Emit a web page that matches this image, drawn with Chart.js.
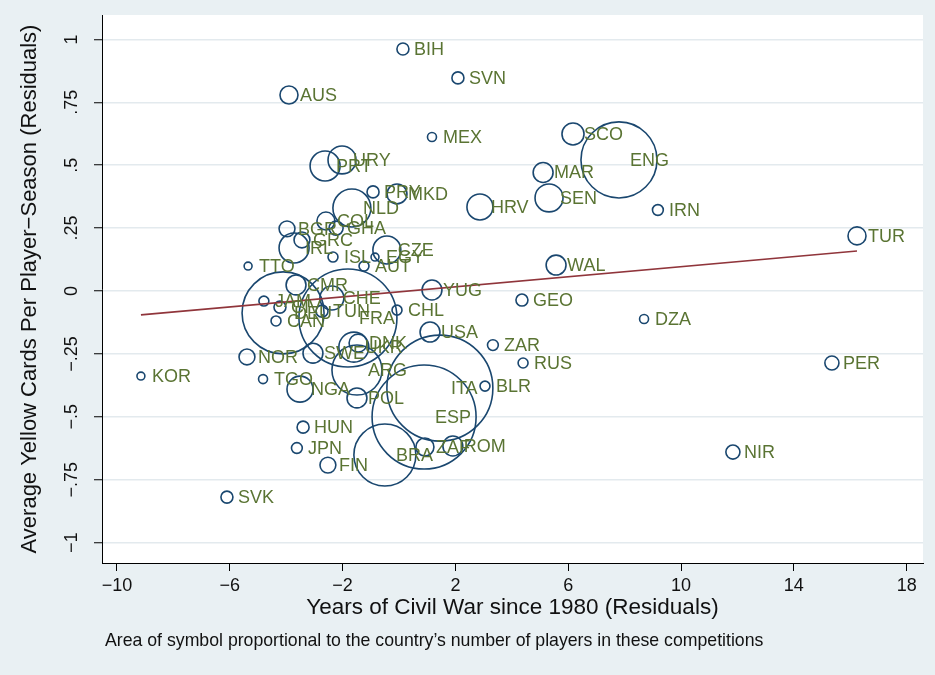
<!DOCTYPE html>
<html><head><meta charset="utf-8">
<script src="https://cdn.jsdelivr.net/npm/chart.js@4.4.0/dist/chart.umd.min.js"></script>
<style>html,body{margin:0;padding:0;background:#E9F0F3;overflow:hidden;}canvas{display:block;}</style>
</head><body>
<canvas id="c" width="935" height="675" style="width:935px;height:675px"></canvas>
<script>
const countries = ['BIH','SVN','AUS','MEX','SCO','ENG','MAR','SEN','HRV','IRN','TUR','WAL','GEO','DZA','ZAR','RUS','PER','BLR','NIR','KOR','NOR','TGO','HUN','JPN','FIN','SVK','BRA','ZAF','ROM','ITA','ESP','USA','YUG','CHL','FRA','DEU','JAM','CAN','CIV','TUN','CHE','CMR','SWE','DNK','UKR','ARG','NGA','POL','TTO','ISL','EGY','AUT','CZE','IRL','GRC','BGR','COL','GHA','NLD','PRT','URY','PRY','MKD'];
const civilWarYears = [0.14,2.09,-3.90,1.17,6.17,7.80,5.11,5.32,2.87,9.18,16.24,5.57,4.36,8.69,3.33,4.40,15.35,3.05,11.84,-9.15,-5.39,-4.82,-3.40,-3.62,-2.52,-6.10,-0.50,0.92,1.91,1.45,0.89,1.10,1.17,-0.07,-1.81,-4.11,-4.79,-4.36,-4.22,-2.73,-2.38,-3.65,-3.05,-1.45,-1.60,-1.49,-3.51,-1.49,-5.35,-2.34,-0.85,-1.24,-0.43,-3.72,-3.44,-3.97,-2.59,-2.23,-1.67,-2.62,-2.02,-0.92,-0.07];
const yellowCards = [0.962,0.847,0.779,0.612,0.624,0.521,0.471,0.370,0.334,0.322,0.219,0.103,-0.036,-0.111,-0.215,-0.286,-0.286,-0.378,-0.640,-0.338,-0.262,-0.350,-0.541,-0.624,-0.692,-0.819,-0.652,-0.620,-0.616,-0.386,-0.501,-0.163,0.004,-0.076,-0.107,-0.087,-0.040,-0.119,-0.064,-0.080,-0.028,0.024,-0.247,-0.207,-0.223,-0.314,-0.390,-0.425,0.099,0.135,0.135,0.099,0.163,0.171,0.203,0.247,0.278,0.250,0.330,0.497,0.521,0.394,0.386];
const players = [16,16,36,9,54,642,44,87,75,13,36,44,16,9,13,11,22,11,22,7,28,9,16,13,28,16,427,36,44,1248,1202,44,44,11,1067,747,11,11,16,16,64,44,44,36,100,278,75,44,7,11,7,11,87,100,28,28,36,22,160,100,87,16,44];
const fitX = [-9.15, 16.24];
const fitY = [-0.095, 0.159];
const xTickValues = [-10,-6,-2,2,6,10,14,18];
const xTickLabels = ['\u221210','\u22126','\u22122','2','6','10','14','18'];
const yTickValues = [-1,-0.75,-0.5,-0.25,0,0.25,0.5,0.75,1];
const yTickLabels = ['\u22121','\u2212.75','\u2212.5','\u2212.25','0','.25','.5','.75','1'];
const xTitle = 'Years of Civil War since 1980 (Residuals)';
const yTitle = 'Average Yellow Cards Per Player\u2212Season (Residuals)';
const note = 'Area of symbol proportional to the country\u2019s number of players in these competitions';

const FAM = "'Liberation Sans', Arial, Helvetica, sans-serif";
const NAVY = '#1a476f', LABEL = '#5a7433', FITC = '#90353b', BG = '#E9F0F3';

const bgPlugin = {
  id: 'bg',
  beforeDraw(chart) {
    const {ctx, chartArea: a} = chart;
    ctx.save();
    ctx.fillStyle = BG; ctx.fillRect(0, 0, chart.width, chart.height);
    ctx.fillStyle = '#ffffff'; ctx.fillRect(a.left, a.top, a.right - a.left, a.bottom - a.top);
    ctx.restore();
  }
};
const labelPlugin = {
  id: 'mlabels',
  afterDatasetsDraw(chart) {
    const ctx = chart.ctx;
    const meta = chart.getDatasetMeta(1);
    ctx.save();
    ctx.font = '18px ' + FAM;
    ctx.fillStyle = LABEL;
    ctx.textBaseline = 'middle';
    ctx.textAlign = 'left';
    meta.data.forEach((el, i) => { ctx.fillText(countries[i], el.x + 11, el.y + 1); });
    ctx.restore();
  }
};
const notePlugin = {
  id: 'note',
  afterDraw(chart) {
    const ctx = chart.ctx;
    ctx.save();
    ctx.font = '17.7px ' + FAM;
    ctx.fillStyle = '#111';
    ctx.textBaseline = 'middle';
    ctx.textAlign = 'left';
    ctx.fillText(note, 105, 641);
    ctx.restore();
  }
};

new Chart(document.getElementById('c'), {
  type: 'bubble',
  data: {
    datasets: [
      { type: 'line', data: fitX.map((x, i) => ({x, y: fitY[i]})), borderColor: FITC, borderWidth: 1.6, pointRadius: 0, fill: false, order: 0 },
      { type: 'bubble', data: countries.map((c, i) => ({x: civilWarYears[i], y: yellowCards[i], r: 1.5 * Math.sqrt(players[i])})),
        backgroundColor: 'rgba(0,0,0,0)', borderColor: NAVY, borderWidth: 1.6, hoverRadius: 0, hoverBorderWidth: 1.6, order: 1 }
    ]
  },
  options: {
    responsive: false, animation: false,
    layout: { autoPadding: false, padding: { top: 15, right: 12, left: 0, bottom: 0 } },
    plugins: { legend: { display: false }, tooltip: { enabled: false } },
    events: [],
    scales: {
      x: {
        type: 'linear', min: -10.53, max: 18.58,
        afterBuildTicks: s => { s.ticks = xTickValues.map(v => ({value: v})); },
        afterFit: s => { s.height = 112; },
        ticks: { callback: v => xTickLabels[xTickValues.indexOf(v)], font: { size: 18, family: FAM }, color: '#111', padding: 4, maxRotation: 0, autoSkip: false },
        grid: { drawOnChartArea: false, tickLength: 8, tickColor: '#000', tickWidth: 1 },
        border: { display: true, color: '#000', width: 1 },
        title: { display: true, text: xTitle, font: { size: 22.5, family: FAM }, color: '#111', padding: { top: 0, bottom: 54 } }
      },
      y: {
        type: 'linear', min: -1.081, max: 1.097,
        afterBuildTicks: s => { s.ticks = yTickValues.map(v => ({value: v})); },
        afterFit: s => { s.width = 102; },
        ticks: { callback: v => yTickLabels[yTickValues.indexOf(v)], font: { size: 18, family: FAM }, color: '#111', padding: 4, minRotation: 90, maxRotation: 90, crossAlign: 'center', autoSkip: false },
        grid: { color: '#E3EAEE', lineWidth: 1.5, tickLength: 8, tickColor: '#000', tickWidth: 1 },
        border: { display: true, color: '#000', width: 1 },
        title: { display: true, text: yTitle, font: { size: 22, family: FAM }, color: '#111', padding: { top: 17, bottom: 0 } }
      }
    }
  },
  plugins: [bgPlugin, labelPlugin, notePlugin]
});
</script>
</body></html>
